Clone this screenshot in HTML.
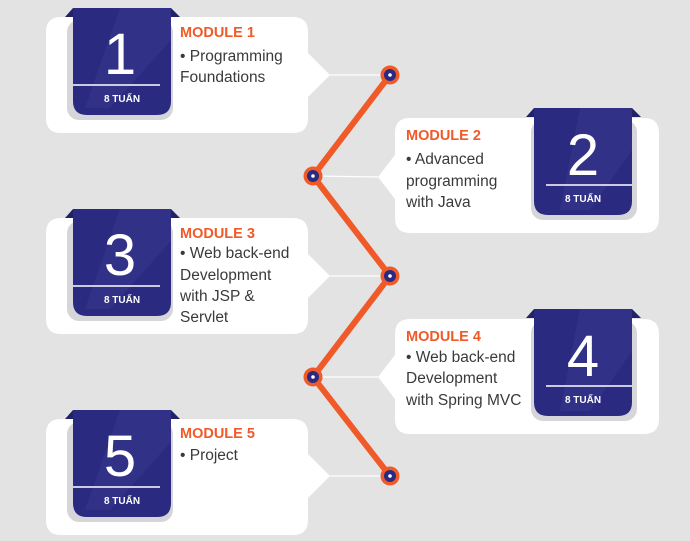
<!DOCTYPE html>
<html><head><meta charset="utf-8"><style>
html,body{margin:0;padding:0;background:#e3e3e3;}
svg{display:block;}
.m{font-family:"Liberation Sans",sans-serif;font-weight:bold;font-size:14.5px;fill:#f05a28;}
.t{font-family:"Liberation Sans",sans-serif;font-size:15.5px;fill:#3a3a3a;}
.n{font-family:"Liberation Sans",sans-serif;font-size:58px;fill:#fff;}
.w{font-family:"Liberation Sans","Noto Sans CJK SC",sans-serif;font-weight:bold;font-size:10px;fill:#fff;}
</style></head><body>
<svg width="690" height="541" viewBox="0 0 690 541" xmlns="http://www.w3.org/2000/svg">
<defs>
<g id="badgeL">
  <rect x="67" y="20" width="106" height="100" rx="12" fill="#d6d6da"/>
  <polygon points="65,17 73,8 171,8 180,17" fill="#22226a"/>
  <path d="M73,8 H171 V101 Q171,115 157,115 H87 Q73,115 73,101 Z" fill="#2a2a80"/>
  <polygon points="120,8 171,8 171,40 110,108 85,108" fill="#34348a" opacity="0.7"/>
  <line x1="73" y1="85" x2="160" y2="85" stroke="#fff" stroke-width="1.5"/>
  <text x="122" y="102" text-anchor="middle" class="w">8 TUẤN</text>
</g>
<g id="badgeR">
  <rect x="531" y="120" width="106" height="100" rx="12" fill="#d6d6da"/>
  <polygon points="526,117 534,108 632,108 641,117" fill="#22226a"/>
  <path d="M534,108 H632 V201 Q632,215 618,215 H548 Q534,215 534,201 Z" fill="#2a2a80"/>
  <polygon points="580,108 632,108 632,150 590,210 560,210" fill="#34348a" opacity="0.7"/>
  <line x1="546" y1="185" x2="632" y2="185" stroke="#fff" stroke-width="1.5"/>
  <text x="583" y="202" text-anchor="middle" class="w">8 TUẤN</text>
</g>
</defs>

<path d="M61,17 H293 Q308,17 308,32 V53 L330,75 L308,97 V118 Q308,133 293,133 H61 Q46,133 46,118 V32 Q46,17 61,17 Z" fill="#fff"/>
<path d="M61,218 H293 Q308,218 308,233 V254 L330,276 L308,298 V319 Q308,334 293,334 H61 Q46,334 46,319 V233 Q46,218 61,218 Z" fill="#fff"/>
<path d="M61,419 H293 Q308,419 308,434 V454 L330,476 L308,498 V520 Q308,535 293,535 H61 Q46,535 46,520 V434 Q46,419 61,419 Z" fill="#fff"/>
<path d="M410,118 H644 Q659,118 659,133 V218 Q659,233 644,233 H410 Q395,233 395,218 V199 L378,177 L395,155 V133 Q395,118 410,118 Z" fill="#fff"/>
<path d="M410,319 H644 Q659,319 659,334 V419 Q659,434 644,434 H410 Q395,434 395,419 V399 L378,377 L395,355 V334 Q395,319 410,319 Z" fill="#fff"/>

<polyline points="390,75 313,176 390,276 313,377 390,476" fill="none" stroke="#f05a28" stroke-width="6" stroke-linejoin="round"/>
<g stroke="#fff" stroke-width="1.3">
<line x1="330" y1="75" x2="390" y2="75"/>
<line x1="313" y1="176" x2="378" y2="177"/>
<line x1="330" y1="276" x2="390" y2="276"/>
<line x1="313" y1="377" x2="378" y2="377"/>
<line x1="330" y1="476" x2="390" y2="476"/>
</g>
<g>
<circle cx="390" cy="75" r="9.5" fill="#f05a28"/><circle cx="390" cy="75" r="6" fill="#2a2a80"/><circle cx="390" cy="75" r="1.8" fill="#fff"/>
<circle cx="313" cy="176" r="9.5" fill="#f05a28"/><circle cx="313" cy="176" r="6" fill="#2a2a80"/><circle cx="313" cy="176" r="1.8" fill="#fff"/>
<circle cx="390" cy="276" r="9.5" fill="#f05a28"/><circle cx="390" cy="276" r="6" fill="#2a2a80"/><circle cx="390" cy="276" r="1.8" fill="#fff"/>
<circle cx="313" cy="377" r="9.5" fill="#f05a28"/><circle cx="313" cy="377" r="6" fill="#2a2a80"/><circle cx="313" cy="377" r="1.8" fill="#fff"/>
<circle cx="390" cy="476" r="9.5" fill="#f05a28"/><circle cx="390" cy="476" r="6" fill="#2a2a80"/><circle cx="390" cy="476" r="1.8" fill="#fff"/>
</g>

<use href="#badgeL"/>
<use href="#badgeL" transform="translate(0,201)"/>
<use href="#badgeL" transform="translate(0,402)"/>
<use href="#badgeR"/>
<use href="#badgeR" transform="translate(0,201)"/>

<text x="120" y="74" text-anchor="middle" class="n">1</text>
<text x="120" y="275" text-anchor="middle" class="n">3</text>
<text x="120" y="476" text-anchor="middle" class="n">5</text>
<text x="583" y="175" text-anchor="middle" class="n">2</text>
<text x="583" y="376" text-anchor="middle" class="n">4</text>

<text x="180" y="37" class="m">MODULE 1</text>
<text x="180" y="61" class="t">• Programming</text>
<text x="180" y="82" class="t">Foundations</text>

<text x="406" y="140" class="m">MODULE 2</text>
<text x="406" y="164" class="t">• Advanced</text>
<text x="406" y="186" class="t">programming</text>
<text x="406" y="207" class="t">with Java</text>

<text x="180" y="238" class="m">MODULE 3</text>
<text x="180" y="258" class="t">• Web back-end</text>
<text x="180" y="280" class="t">Development</text>
<text x="180" y="301" class="t">with JSP &amp;</text>
<text x="180" y="322" class="t">Servlet</text>

<text x="406" y="341" class="m">MODULE 4</text>
<text x="406" y="362" class="t">• Web back-end</text>
<text x="406" y="383" class="t">Development</text>
<text x="406" y="405" class="t">with Spring MVC</text>

<text x="180" y="438" class="m">MODULE 5</text>
<text x="180" y="460" class="t">• Project</text>
</svg>
</body></html>
